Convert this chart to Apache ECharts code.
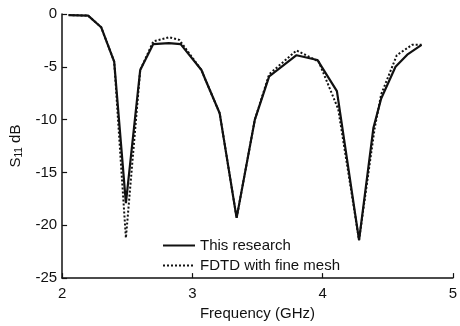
<!DOCTYPE html>
<html>
<head>
<meta charset="utf-8">
<script src="https://cdn.jsdelivr.net/npm/echarts@6/dist/echarts.min.js"></script>
<style>
  html, body { margin: 0; padding: 0; background: #fff; }
  #chart { width: 460px; height: 326px; }
</style>
</head>
<body>
<div id="chart"></div>
<script>
// Return loss S11 versus frequency: this method vs. fine-mesh FDTD
const freqThis = [2.05, 2.2, 2.3, 2.4, 2.49, 2.6, 2.7, 2.82, 2.91, 3.07, 3.1, 3.21, 3.34, 3.48, 3.59, 3.8, 3.96, 4.11, 4.28, 4.39, 4.45, 4.56, 4.65, 4.76];
const s11This  = [-0.1, -0.15, -1.25, -4.5, -17.9, -5.3, -2.85, -2.75, -2.85, -5.3, -6.2, -9.4, -19.3, -10.0, -5.9, -3.9, -4.35, -7.3, -21.4, -10.8, -8.0, -5.0, -3.85, -2.93];

const freqFdtd = [2.05, 2.2, 2.3, 2.4, 2.49, 2.6, 2.7, 2.82, 2.9, 3.07, 3.1, 3.21, 3.34, 3.48, 3.59, 3.8, 3.97, 4.12, 4.28, 4.4, 4.45, 4.57, 4.69, 4.76];
const s11Fdtd  = [-0.1, -0.15, -1.25, -4.5, -21.2, -5.3, -2.6, -2.2, -2.45, -5.3, -6.2, -9.4, -19.3, -10.0, -5.7, -3.45, -4.5, -9.0, -21.4, -10.8, -7.6, -3.9, -2.9, -2.9];

const xTicks = [2, 3, 4, 5];
const yTicks = [-25, -20, -15, -10, -5, 0];

const pairs = (xs, ys) => xs.map((x, i) => [x, ys[i]]);

const ink = '#111';
const font = 'Liberation Sans, Arial, sans-serif';

const chart = echarts.init(document.getElementById('chart'), null, { renderer: 'canvas' });
chart.setOption({
  backgroundColor: '#fff',
  animation: false,
  grid: { left: 61, right: 1, top: 14, bottom: 47, containLabel: false },
  legend: {
    orient: 'vertical',
    left: 157,
    top: 233,
    itemWidth: 32,
    itemHeight: 14,
    itemGap: 5,
    itemStyle: { opacity: 0 },
    textStyle: { color: ink, fontSize: 15, fontFamily: font },
    data: ['This research', 'FDTD with fine mesh']
  },
  xAxis: {
    type: 'value',
    min: xTicks[0],
    max: xTicks[xTicks.length - 1],
    interval: 1,
    name: 'Frequency (GHz)',
    nameLocation: 'middle',
    nameGap: 26,
    nameTextStyle: { color: ink, fontSize: 15, fontFamily: font },
    axisLine: { onZero: false, lineStyle: { color: ink, width: 1.5 } },
    axisTick: { inside: true, length: 5, lineStyle: { color: ink, width: 1.2 } },
    axisLabel: { color: ink, fontSize: 15, fontFamily: font, margin: 8 },
    splitLine: { show: false }
  },
  yAxis: {
    type: 'value',
    min: yTicks[0],
    max: yTicks[yTicks.length - 1],
    interval: 5,
    name: '{a|S}{b|11}{a| dB}',
    nameLocation: 'middle',
    nameRotate: 90,
    nameGap: 30,
    nameTextStyle: {
      color: ink, fontFamily: font,
      rich: {
        a: { fontSize: 15, fontFamily: font, color: ink, lineHeight: 18 },
        b: { fontSize: 10, fontFamily: font, color: ink, verticalAlign: 'bottom', lineHeight: 12, padding: [6, 0, 0, 0] }
      }
    },
    axisLine: { onZero: false, lineStyle: { color: ink, width: 1.5 } },
    axisTick: { inside: true, length: 5, lineStyle: { color: ink, width: 1.2 } },
    axisLabel: { color: ink, fontSize: 15, fontFamily: font, margin: 5 },
    splitLine: { show: false }
  },
  series: [
    {
      name: 'This research',
      type: 'line',
      data: pairs(freqThis, s11This),
      symbol: 'none',
      z: 3,
      lineStyle: { color: ink, width: 2.2, type: 'solid' },
      itemStyle: { color: ink }
    },
    {
      name: 'FDTD with fine mesh',
      type: 'line',
      data: pairs(freqFdtd, s11Fdtd),
      symbol: 'none',
      z: 2,
      lineStyle: { color: ink, width: 2, type: [2, 2] },
      itemStyle: { color: ink }
    }
  ]
});
</script>
</body>
</html>
